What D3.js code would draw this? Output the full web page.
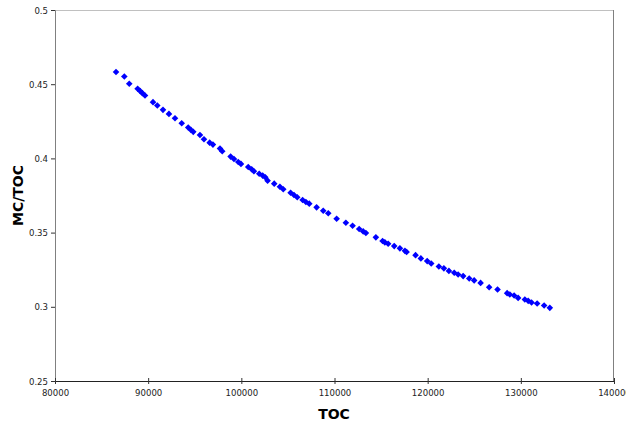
<!DOCTYPE html>
<html>
<head>
<meta charset="utf-8">
<script src="https://cdn.jsdelivr.net/npm/d3@7"></script>
<style>
  body { margin: 0; background: #fff; }
  .tick text { font-family: "DejaVu Sans Condensed", "Liberation Sans", sans-serif; font-size: 9.5px; fill: #222; }
  .title { font-family: "DejaVu Sans", sans-serif; font-weight: bold; font-size: 14px; fill: #000; }
</style>
</head>
<body>
<svg class="chart"></svg>
<script>
// data
var toc = [86550, 87440, 87970, 88870, 89150, 89370, 89660, 90520, 90980, 91590,
  92230, 92880, 93600, 94300, 94590, 94840, 95560, 95990, 96600, 96950,
  97710, 97950, 98850, 99210, 99670, 99960, 100740, 101110, 101350, 101920,
  102290, 102570, 102820, 103530, 104140, 104500, 105290, 105650, 106000, 106580,
  106930, 107290, 108080, 108790, 109330, 110230, 111220, 111940, 112650, 113080,
  113370, 114440, 115160, 115410, 115760, 116410, 117020, 117560, 117740, 118700,
  119270, 119950, 120380, 121200, 121740, 122280, 122850, 123270, 123810, 124460,
  124990, 125680, 126600, 127500, 128530, 128820, 129280, 129710, 130430, 130790,
  131150, 131750, 132500, 133110];
var mcToc = [0.4582, 0.4552, 0.4503, 0.4469, 0.4453, 0.4440, 0.4424, 0.4379, 0.4356, 0.4327,
  0.4300, 0.4271, 0.4237, 0.4208, 0.4192, 0.4179, 0.4158, 0.4129, 0.4106, 0.4093,
  0.4066, 0.4048, 0.4012, 0.3996, 0.3976, 0.3963, 0.3942, 0.3927, 0.3913, 0.3897,
  0.3884, 0.3873, 0.3850, 0.3830, 0.3809, 0.3792, 0.3769, 0.3753, 0.3738, 0.3720,
  0.3706, 0.3695, 0.3670, 0.3647, 0.3630, 0.3593, 0.3566, 0.3546, 0.3524, 0.3508,
  0.3497, 0.3468, 0.3443, 0.3434, 0.3425, 0.3409, 0.3394, 0.3377, 0.3369, 0.3348,
  0.3326, 0.3308, 0.3292, 0.3272, 0.3259, 0.3242, 0.3229, 0.3218, 0.3207, 0.3191,
  0.3178, 0.3161, 0.3132, 0.3117, 0.3092, 0.3083, 0.3076, 0.3060, 0.3049, 0.3040,
  0.3029, 0.3022, 0.3009, 0.2993];
var xTicks = [80000, 90000, 100000, 110000, 120000, 130000, 140000];
var yTicks = [0.25, 0.3, 0.35, 0.4, 0.45, 0.5];

// define margins
var margin = {top: 10, right: 12, bottom: 44, left: 55},
  width = 626 - margin.left - margin.right,
  height = 425 - margin.top - margin.bottom;

var x = d3.scaleLinear().domain([80000, 140000]).range([0, width]);
var y = d3.scaleLinear().domain([0.25, 0.5]).range([height, 0]);

var svg = d3.select(".chart")
  .attr("width", 626)
  .attr("height", 425);

var chart = svg.append("g")
  .attr("transform", "translate(" + margin.left + "," + margin.top + ")");

// plot frame: light top, gray right
chart.append("line")
  .attr("x1", 0).attr("x2", width).attr("y1", 0.5).attr("y2", 0.5)
  .attr("stroke", "#c0c0c0");
chart.append("line")
  .attr("x1", width - 0.5).attr("x2", width - 0.5).attr("y1", 0).attr("y2", height)
  .attr("stroke", "#808080");

// y-axis
var yAxis = chart.append("g")
  .attr("class", "y axis")
  .call(d3.axisLeft(y).tickValues(yTicks).tickSize(4).tickPadding(3).tickFormat(d3.format("")));
yAxis.select(".domain").attr("stroke", "#808080");
yAxis.selectAll(".tick line").attr("stroke", "#333");

// x-axis
var xAxis = chart.append("g")
  .attr("class", "x axis")
  .attr("transform", "translate(0," + height + ")")
  .call(d3.axisBottom(x).tickValues(xTicks).tickSize(3).tickPadding(5).tickFormat(d3.format("d")));
xAxis.select(".domain").attr("stroke", "#222");
xAxis.selectAll(".tick line").attr("y1", -3).attr("stroke", "#333");

// axis titles
svg.append("text")
  .attr("class", "title")
  .attr("transform", "translate(23," + (margin.top + height / 2) + ") rotate(-90)")
  .style("text-anchor", "middle")
  .text("MC/TOC");

svg.append("text")
  .attr("class", "title")
  .attr("x", 334)
  .attr("y", 419)
  .style("text-anchor", "middle")
  .text("TOC");

// diamond markers
var pts = toc.map(function(d, i) { return [d, mcToc[i]]; });
chart.selectAll(".pt")
  .data(pts)
  .enter().append("path")
  .attr("class", "pt")
  .attr("d", "M0,-3.3L3.3,0L0,3.3L-3.3,0Z")
  .attr("fill", "#0000ff")
  .attr("transform", function(d) { return "translate(" + x(d[0]) + "," + y(d[1]) + ")"; });
</script>
</body>
</html>
